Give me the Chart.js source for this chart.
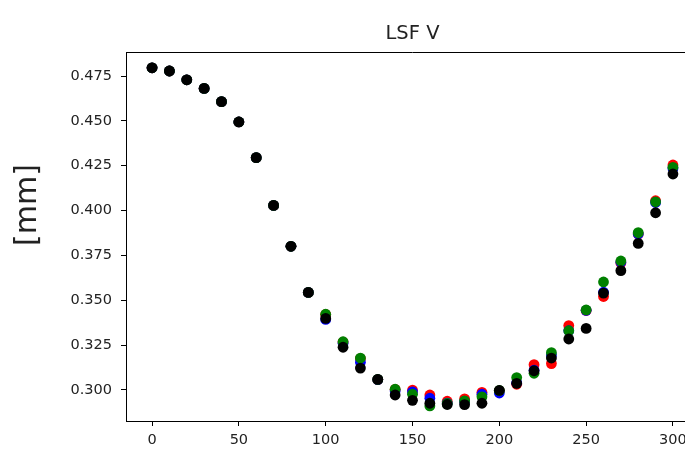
<!DOCTYPE html>
<html>
<head>
<meta charset="utf-8">
<script src="https://cdn.jsdelivr.net/npm/chart.js@4/dist/chart.umd.min.js"></script>
<style>
  html, body { margin: 0; padding: 0; background: #fff; overflow: hidden; }
  #wrap { width: 824px; height: 449px; }
</style>
</head>
<body>
<div id="wrap"><canvas id="lsfChart" width="824" height="449"></canvas></div>
<script>
// sample positions and the four measured LSF curves
var positions = [0, 10, 20, 30, 40, 50, 60, 70, 80, 90, 100, 110, 120, 130, 140, 150,
                 160, 170, 180, 190, 200, 210, 220, 230, 240, 250, 260, 270, 280, 290, 300];

var lsfRed = [0.4796, 0.4778, 0.4729, 0.4681, 0.4607, 0.4494, 0.4295, 0.4029, 0.3801, 0.3544,
              0.3421, 0.3267, 0.3175, 0.3058, 0.3003, 0.2999, 0.2972, 0.2937, 0.2950, 0.2987,
              0.2994, 0.3032, 0.3141, 0.3147, 0.3359, 0.3443, 0.3521, 0.3708, 0.3869, 0.4055, 0.4254];

var lsfBlue = [0.4796, 0.4778, 0.4729, 0.4681, 0.4607, 0.4494, 0.4295, 0.4029, 0.3801, 0.3544,
               0.3393, 0.3261, 0.3154, 0.3058, 0.2994, 0.2989, 0.2954, 0.2927, 0.2936, 0.2976,
               0.2983, 0.3040, 0.3110, 0.3195, 0.3330, 0.3444, 0.3545, 0.3712, 0.3870, 0.4045, 0.4235];

var lsfGreen = [0.4796, 0.4778, 0.4729, 0.4681, 0.4607, 0.4494, 0.4295, 0.4029, 0.3801, 0.3544,
                0.3422, 0.3269, 0.3178, 0.3059, 0.3004, 0.2976, 0.2911, 0.2925, 0.2939, 0.2962,
                0.2997, 0.3069, 0.3093, 0.3208, 0.3330, 0.3446, 0.3602, 0.3719, 0.3877, 0.4049, 0.4241];

var lsfBlack = [0.4796, 0.4778, 0.4729, 0.4681, 0.4607, 0.4494, 0.4295, 0.4029, 0.3801, 0.3544,
                0.3399, 0.3238, 0.3122, 0.3059, 0.2972, 0.2942, 0.2926, 0.2919, 0.2918, 0.2926,
                0.2998, 0.3037, 0.3107, 0.3178, 0.3284, 0.3343, 0.3540, 0.3665, 0.3817, 0.3988, 0.4204];

var xTicks = [0, 50, 100, 150, 200, 250, 300];
var yTicks = [0.300, 0.325, 0.350, 0.375, 0.400, 0.425, 0.450, 0.475];

var FONT = "'DejaVu Sans', sans-serif";

function points(values) {
    return positions.map(function (x, i) { return { x: x, y: values[i] }; });
}

function series(values, color, order) {
    return {
        data: points(values),
        backgroundColor: color,
        borderWidth: 0,
        pointRadius: 5.4,
        pointHoverRadius: 5.4,
        order: order
    };
}

// box outline on top/right and the big y label
var frame = {
    id: 'frame',
    afterDraw: function (chart) {
        var ctx = chart.ctx, a = chart.chartArea;
        ctx.save();
        ctx.strokeStyle = '#000';
        ctx.lineWidth = 1;
        ctx.beginPath();
        ctx.moveTo(a.left, a.top + 0.5);
        ctx.lineTo(a.right, a.top + 0.5);
        ctx.lineTo(a.right, a.bottom);
        ctx.stroke();

        ctx.translate(28, 205);
        ctx.rotate(-Math.PI / 2);
        ctx.fillStyle = '#222';
        ctx.font = '30px ' + FONT;
        ctx.textAlign = 'center';
        ctx.textBaseline = 'middle';
        ctx.fillText('[mm]', 0, 0);
        ctx.restore();
    }
};

var tickStyle = { display: true, drawOnChartArea: false, drawTicks: true, tickLength: 5, color: '#000' };

new Chart(document.getElementById('lsfChart').getContext('2d'), {
    type: 'scatter',
    data: {
        datasets: [
            series(lsfRed, '#ff0000', 4),
            series(lsfBlue, '#0000ff', 3),
            series(lsfGreen, '#008000', 2),
            series(lsfBlack, '#000000', 1)
        ]
    },
    options: {
        responsive: false,
        animation: false,
        layout: { padding: { left: 0, top: 0, right: 125, bottom: 0 } },
        plugins: {
            legend: { display: false },
            tooltip: { enabled: false },
            title: {
                display: true,
                text: 'LSF V',
                fullSize: false,
                color: '#222',
                font: { family: FONT, size: 19.5, weight: 'normal' },
                padding: { top: 22.5, bottom: 6.1 }
            }
        },
        scales: {
            x: {
                type: 'linear',
                min: -15,
                max: 315,
                grid: tickStyle,
                border: { display: true, color: '#000', width: 1 },
                afterFit: function (s) { s.height = 28; },
                afterBuildTicks: function (s) { s.ticks = xTicks.map(function (v) { return { value: v }; }); },
                ticks: {
                    color: '#222',
                    padding: 6,
                    font: { family: FONT, size: 14.5 },
                    callback: function (v) { return String(v); }
                }
            },
            y: {
                type: 'linear',
                min: 0.2827,
                max: 0.4884,
                grid: tickStyle,
                border: { display: true, color: '#000', width: 1 },
                afterFit: function (s) { s.width = 126; },
                afterBuildTicks: function (s) { s.ticks = yTicks.map(function (v) { return { value: v }; }); },
                ticks: {
                    color: '#222',
                    padding: 9,
                    font: { family: FONT, size: 14.5 },
                    callback: function (v) { return v.toFixed(3); }
                }
            }
        }
    },
    plugins: [frame]
});
</script>
</body>
</html>
